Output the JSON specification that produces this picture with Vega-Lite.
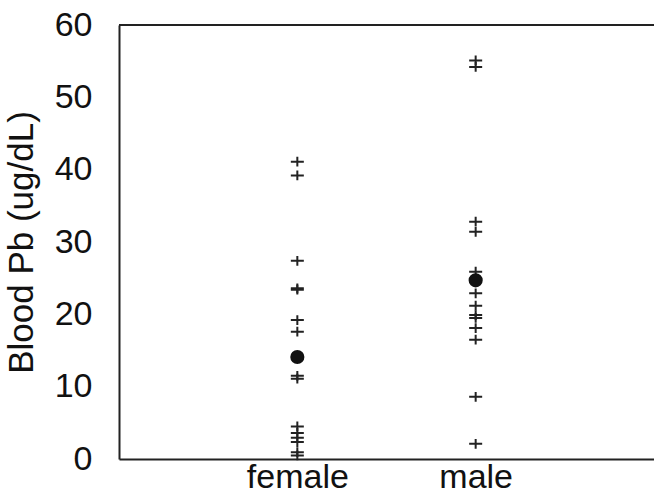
{
  "$schema": "https://vega.github.io/schema/vega-lite/v6.json",
  "autosize": {"type": "none"},
  "padding": {"left": 119, "top": 25, "right": 0, "bottom": 32},
  "width": 535,
  "height": 434,
  "background": "white",
  "config": {
    "view": {"stroke": null},
    "font": "Liberation Sans"
  },
  "data": {
    "values": [
      {"sex": "female", "pb": 41.1, "kind": "obs"},
      {"sex": "female", "pb": 39.2, "kind": "obs"},
      {"sex": "female", "pb": 27.4, "kind": "obs"},
      {"sex": "female", "pb": 23.6, "kind": "obs"},
      {"sex": "female", "pb": 23.4, "kind": "obs"},
      {"sex": "female", "pb": 19.2, "kind": "obs"},
      {"sex": "female", "pb": 17.6, "kind": "obs"},
      {"sex": "female", "pb": 11.5, "kind": "obs"},
      {"sex": "female", "pb": 11.1, "kind": "obs"},
      {"sex": "female", "pb": 4.5, "kind": "obs"},
      {"sex": "female", "pb": 3.6, "kind": "obs"},
      {"sex": "female", "pb": 2.95, "kind": "obs"},
      {"sex": "female", "pb": 2.35, "kind": "obs"},
      {"sex": "female", "pb": 0.95, "kind": "obs"},
      {"sex": "female", "pb": 0.5, "kind": "obs"},
      {"sex": "female", "pb": 14.1, "kind": "mean"},
      {"sex": "male", "pb": 55.1, "kind": "obs"},
      {"sex": "male", "pb": 54.2, "kind": "obs"},
      {"sex": "male", "pb": 32.8, "kind": "obs"},
      {"sex": "male", "pb": 31.4, "kind": "obs"},
      {"sex": "male", "pb": 25.9, "kind": "obs"},
      {"sex": "male", "pb": 22.9, "kind": "obs"},
      {"sex": "male", "pb": 21.2, "kind": "obs"},
      {"sex": "male", "pb": 19.9, "kind": "obs"},
      {"sex": "male", "pb": 19.5, "kind": "obs"},
      {"sex": "male", "pb": 18.1, "kind": "obs"},
      {"sex": "male", "pb": 16.5, "kind": "obs"},
      {"sex": "male", "pb": 8.6, "kind": "obs"},
      {"sex": "male", "pb": 2.1, "kind": "obs"},
      {"sex": "male", "pb": 24.7, "kind": "mean"}
    ]
  },
  "encoding": {
    "x": {
      "field": "sex",
      "type": "nominal",
      "sort": ["female", "male"],
      "scale": {"type": "point", "padding": 1.01},
      "axis": {
        "title": null,
        "labelAngle": 0,
        "labelFontSize": 34,
        "labelColor": "#111",
        "labelPadding": 1,
        "ticks": false,
        "domainColor": "#222",
        "domainWidth": 2,
        "grid": false
      }
    },
    "y": {
      "field": "pb",
      "type": "quantitative",
      "scale": {"domain": [0, 60], "nice": false},
      "axis": {
        "title": "Blood Pb (ug/dL)",
        "titleFontSize": 35,
        "titleFontWeight": "normal",
        "titleColor": "#111",
        "titlePadding": 15,
        "values": [0, 10, 20, 30, 40, 50, 60],
        "labelFontSize": 34,
        "labelColor": "#111",
        "labelPadding": 27,
        "ticks": false,
        "domainColor": "#222",
        "domainWidth": 2,
        "grid": false
      }
    }
  },
  "layer": [
    {
      "transform": [{"filter": "datum.kind === 'obs'"}],
      "mark": {
        "type": "point",
        "shape": "M-1,0H1M0,-0.75V0.75",
        "size": 169,
        "filled": false,
        "stroke": "#222",
        "strokeWidth": 2,
        "opacity": 1
      }
    },
    {
      "transform": [{"filter": "datum.kind === 'mean'"}],
      "mark": {
        "type": "point",
        "shape": "circle",
        "size": 200,
        "filled": true,
        "color": "#111",
        "opacity": 1
      }
    },
    {
      "mark": {"type": "rule", "color": "#222", "strokeWidth": 2},
      "encoding": {"y": {"datum": 60}, "x": null}
    }
  ]
}
